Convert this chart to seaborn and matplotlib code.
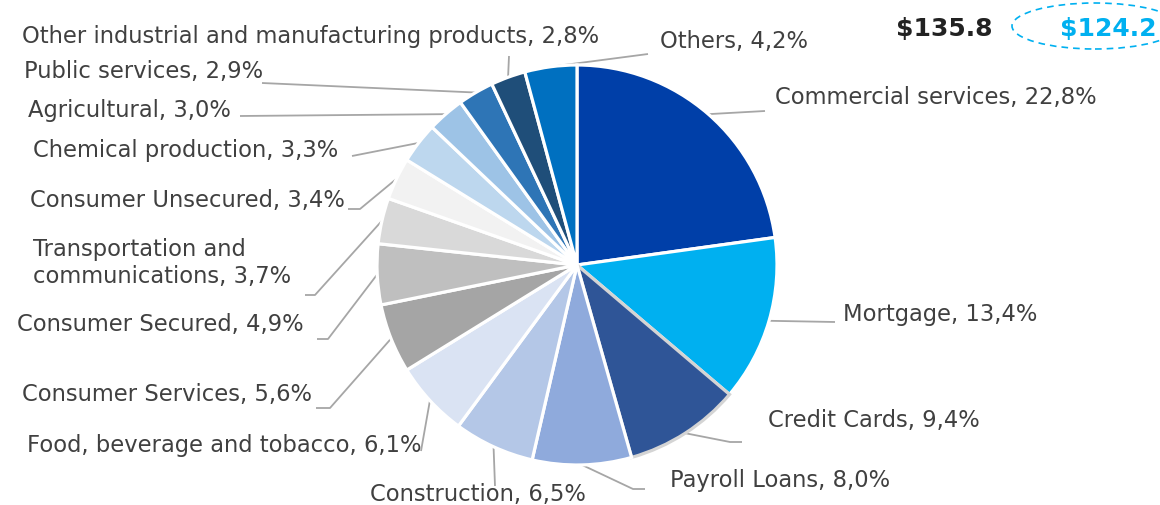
import matplotlib
matplotlib.use("Agg")
import matplotlib.pyplot as plt
from matplotlib.patches import Ellipse
import numpy as np
import seaborn as sns

# Loan portfolio composition by segment (%)
segments = [
    "Commercial services", "Mortgage", "Credit Cards", "Payroll Loans",
    "Construction", "Food, beverage and tobacco", "Consumer Services",
    "Consumer Secured", "Transportation and\ncommunications",
    "Consumer Unsecured", "Chemical production", "Agricultural",
    "Public services", "Other industrial and manufacturing products", "Others",
]
shares = [22.8, 13.4, 9.4, 8.0, 6.5, 6.1, 5.6, 4.9, 3.7, 3.4, 3.3, 3.0, 2.9, 2.8, 4.2]
colors = [
    "#003FA8", "#00B0F0", "#2F5597", "#8FAADC", "#B4C7E7", "#DAE3F3",
    "#A5A5A5", "#BFBFBF", "#D9D9D9", "#F2F2F2", "#BDD7EE", "#9DC3E6",
    "#2E75B6", "#1F4E79", "#0070C0",
]
totals = ["$135.8", "$124.2"]

W, H = 1160, 506
sns.set_theme(style="white")
plt.rcParams["font.family"] = ["DejaVu Sans"]

fig = plt.figure(figsize=(W / 100, H / 100), dpi=100)
ax = fig.add_axes([0, 0, 1, 1])

cx, cy, R = 577, H - 266, 200
wedges, _ = ax.pie(
    shares, colors=colors, startangle=90, counterclock=False,
    center=(cx, cy), radius=R,
    wedgeprops=dict(edgecolor="white", linewidth=2.3),
)
wedges[2].set_edgecolor("#D4D4D4")
ax.set_xlim(0, W)
ax.set_ylim(0, H)
ax.set_aspect("auto")
ax.axis("off")

def P(x, y):
    return x, H - y

# label layout: text anchor (px from top-left), alignment, leader bend points
layout = [
    ((775, 97), "left", [(765, 112)]),
    ((843, 315), "left", [(835, 323)]),
    ((768, 421), "left", [(730, 443), (742, 443)]),
    ((670, 481), "left", [(633, 490), (645, 490)]),
    ((370, 495), "left", [(495, 487)]),
    ((27, 446), "left", [(421, 452)]),
    ((22, 395), "left", [(330, 409), (316, 409)]),
    ((17, 325), "left", [(328, 340), (317, 340)]),
    ((33, 263), "left", [(315, 296), (305, 296)]),
    ((30, 201), "left", [(360, 210), (348, 210)]),
    ((33, 150), "left", [(352, 157)]),
    ((28, 110), "left", [(240, 117)]),
    ((24, 71), "left", [(262, 84)]),
    ((22, 36), "left", [(509, 57)]),
    ((660, 41), "left", [(648, 55)]),
]

line_c = "#A6A6A6"
text_c = "#404040"
for w, name, val, (tpos, ha, bends) in zip(wedges, segments, shares, layout):
    mid = np.deg2rad((w.theta1 + w.theta2) / 2)
    sx, sy = cx + R * np.cos(mid), cy + R * np.sin(mid)
    xs = [sx] + [b[0] for b in bends]
    ys = [sy] + [H - b[1] for b in bends]
    ax.plot(xs, ys, color=line_c, lw=1.3, solid_capstyle="butt", zorder=0)
    label = f"{name}, {val:.1f}%".replace(".", ",")
    ax.text(*P(*tpos), label, ha=ha, va="center", fontsize=16.3,
            color=text_c, linespacing=1.2)

ax.text(*P(944, 29), totals[0], ha="center", va="center", fontsize=18,
        fontweight="bold", color="#222222")
ax.text(*P(1108, 29), totals[1], ha="center", va="center", fontsize=18,
        fontweight="bold", color="#00B0F0")
ax.add_patch(Ellipse(P(1095, 27), 166, 46, fill=False, edgecolor="#00B0F0",
                     lw=1.2, linestyle=(0, (4, 3)), clip_on=True))

fig.savefig("out.png", dpi=100)
